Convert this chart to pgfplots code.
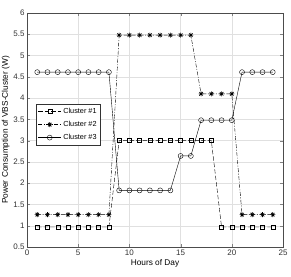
\documentclass[border=0pt]{standalone}
\usepackage{pgfplots}
\pgfplotsset{compat=1.18}
\usepackage{fontspec}
\setmainfont{Liberation Sans}
\pgfdeclareplotmark{star8}{%
  \pgfpathmoveto{\pgfqpoint{-\pgfplotmarksize}{0pt}}\pgfpathlineto{\pgfqpoint{\pgfplotmarksize}{0pt}}%
  \pgfpathmoveto{\pgfqpoint{0pt}{-\pgfplotmarksize}}\pgfpathlineto{\pgfqpoint{0pt}{\pgfplotmarksize}}%
  \pgfpathmoveto{\pgfqpoint{-0.707\pgfplotmarksize}{-0.707\pgfplotmarksize}}\pgfpathlineto{\pgfqpoint{0.707\pgfplotmarksize}{0.707\pgfplotmarksize}}%
  \pgfpathmoveto{\pgfqpoint{-0.707\pgfplotmarksize}{0.707\pgfplotmarksize}}\pgfpathlineto{\pgfqpoint{0.707\pgfplotmarksize}{-0.707\pgfplotmarksize}}%
  \pgfusepathqstroke}
\begin{document}
\begin{tikzpicture}
\begin{axis}[
  name=ax,
  scale only axis, width=256pt, height=234pt,
  xmin=0, xmax=25, ymin=0.5, ymax=6,
  xtick={0,5,...,25}, ytick={0.5,1,...,6},
  yticklabel style={/pgf/number format/fixed, /pgf/number format/precision=1},
  /pgf/number format/assume math mode=true,
  tick label style={font=\fontsize{8}{9}\selectfont, text=black!80},
  xticklabel style={yshift=1pt},
  yticklabel style={xshift=1pt},
  label style={font=\fontsize{8.3}{9.5}\selectfont},
  xlabel={Hours of Day},
  ylabel={Power Consumption of VBS-Cluster (W)},
  xlabel style={yshift=3pt},
  ylabel style={yshift=-3pt},
  grid=major, grid style={black!12},
  tick align=inside, major tick length=3pt,
  axis line style={black!70},
  legend style={at={(0.035,0.611)}, anchor=north west, font=\fontsize{7.3}{8}\selectfont, draw=black!80, row sep=2.2pt, inner sep=2pt},
  legend cell align=left,
  legend image code/.code={\draw[#1] (0cm,0cm) -- (0.8cm,0cm); \draw[#1, only marks] plot coordinates {(0.4cm,0cm)};},
  every axis plot/.append style={black, thin},
]
\addplot[dash pattern=on 4.5pt off 2pt, mark=square, mark size=2pt, mark options={solid}] coordinates {
(1,0.97)(2,0.97)(3,0.97)(4,0.97)(5,0.97)(6,0.97)(7,0.97)(8,0.97)
(9,3.0)(10,3.0)(11,3.0)(12,3.0)(13,3.0)(14,3.0)(15,3.0)(16,3.0)(17,3.0)(18,3.0)
(19,0.97)(20,0.97)(21,0.97)(22,0.97)(23,0.97)(24,0.97)};
\addlegendentry{Cluster \#1}
\addplot[dash pattern=on 4pt off 1.5pt on 1pt off 1.5pt, mark=star8, mark size=2.5pt, mark options={solid, semithick}] coordinates {
(1,1.26)(2,1.26)(3,1.26)(4,1.26)(5,1.26)(6,1.26)(7,1.26)(8,1.26)
(9,5.48)(10,5.48)(11,5.48)(12,5.48)(13,5.48)(14,5.48)(15,5.48)(16,5.48)
(17,4.1)(18,4.1)(19,4.1)(20,4.1)
(21,1.26)(22,1.26)(23,1.26)(24,1.26)};
\addlegendentry{Cluster \#2}
\addplot[solid, mark=o, mark size=2.5pt] coordinates {
(1,4.61)(2,4.61)(3,4.61)(4,4.61)(5,4.61)(6,4.61)(7,4.61)(8,4.61)
(9,1.83)(10,1.83)(11,1.83)(12,1.83)(13,1.83)(14,1.83)
(15,2.64)(16,2.64)
(17,3.48)(18,3.48)(19,3.48)(20,3.48)
(21,4.61)(22,4.61)(23,4.61)(24,4.61)};
\addlegendentry{Cluster \#3}
\node[anchor=south west, font=\fontsize{7}{8}\selectfont, text=black!80, inner sep=1pt] at (rel axis cs:0,1) {×10\textsuperscript{5}};
\end{axis}
\pgfresetboundingbox
\path ([xshift=-27pt,yshift=-30pt]ax.south west) rectangle ([xshift=8pt,yshift=13pt]ax.north east);
\end{tikzpicture}
\end{document}
